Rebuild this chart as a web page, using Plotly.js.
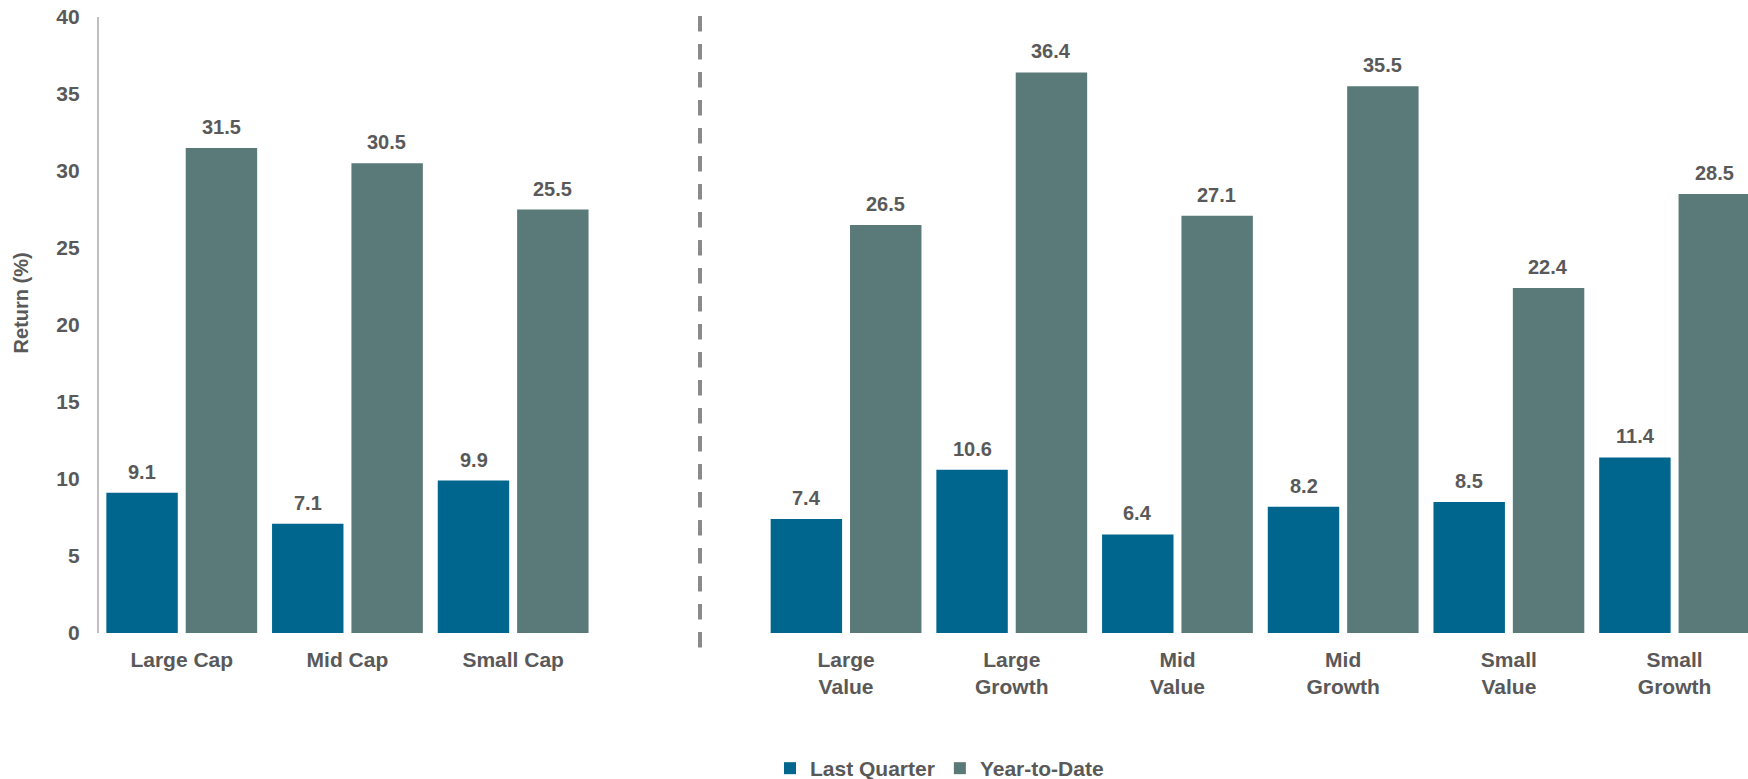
<!DOCTYPE html>
<html>
<head>
<meta charset="utf-8">
<script src="https://cdn.plot.ly/plotly-3.0.1.min.js"></script>
<style>
  html, body { margin: 0; padding: 0; background: #ffffff; }
  #chart { width: 1748px; height: 779px; }
</style>
</head>
<body>
<div id="chart"></div>
<script>
// ---- Data ----
var seriesNames = ['Last Quarter', 'Year-to-Date'];

var broadCategories = ['Large Cap', 'Mid Cap', 'Small Cap'];
var broadLastQuarter = [9.1, 7.1, 9.9];
var broadYTD = [31.5, 30.5, 27.5];
var broadLastQuarterLabels = ['9.1', '7.1', '9.9'];
var broadYTDLabels = ['31.5', '30.5', '25.5'];

var styleCategories = ['Large<br>Value', 'Large<br>Growth', 'Mid<br>Value', 'Mid<br>Growth', 'Small<br>Value', 'Small<br>Growth'];
var styleLastQuarter = [7.4, 10.6, 6.4, 8.2, 8.5, 11.4];
var styleYTD = [26.5, 36.4, 27.1, 35.5, 22.4, 28.5];
var styleLastQuarterLabels = ['7.4', '10.6', '6.4', '8.2', '8.5', '11.4'];
var styleYTDLabels = ['26.5', '36.4', '27.1', '35.5', '22.4', '28.5'];

var yTickValues = [0, 5, 10, 15, 20, 25, 30, 35, 40];

// ---- Style ----
var W = 1748, H = 779;
var colorLQ = '#00668E';
var colorYTD = '#5A7A79';
var textColor = '#595959';
var fontFamily = 'Liberation Sans, Arial, Helvetica, sans-serif';
var boldFont = function (size) { return { family: fontFamily, size: size, color: textColor, weight: 'bold' }; };

var traces = [
  { type: 'bar', name: seriesNames[0], x: broadCategories, y: broadLastQuarter, xaxis: 'x', yaxis: 'y',
    marker: { color: colorLQ }, legendgroup: 'lq', showlegend: true, hoverinfo: 'skip' },
  { type: 'bar', name: seriesNames[1], x: broadCategories, y: broadYTD, xaxis: 'x', yaxis: 'y',
    marker: { color: colorYTD }, legendgroup: 'ytd', showlegend: true, hoverinfo: 'skip' },
  { type: 'bar', name: seriesNames[0], x: styleCategories, y: styleLastQuarter, xaxis: 'x2', yaxis: 'y',
    marker: { color: colorLQ }, legendgroup: 'lq', showlegend: false, hoverinfo: 'skip' },
  { type: 'bar', name: seriesNames[1], x: styleCategories, y: styleYTD, xaxis: 'x2', yaxis: 'y',
    marker: { color: colorYTD }, legendgroup: 'ytd', showlegend: false, hoverinfo: 'skip' }
];

var slotShift = 39.5;
var annotations = [];
function addLabels(cats, vals, labels, xref, shift) {
  for (var i = 0; i < cats.length; i++) {
    annotations.push({
      x: cats[i], y: vals[i], xref: xref, yref: 'y', text: labels[i],
      showarrow: false, xshift: shift, yshift: 8, yanchor: 'bottom', xanchor: 'center',
      font: boldFont(20)
    });
  }
}
addLabels(broadCategories, broadLastQuarter, broadLastQuarterLabels, 'x', -slotShift);
addLabels(broadCategories, broadYTD, broadYTDLabels, 'x', slotShift);
addLabels(styleCategories, styleLastQuarter, styleLastQuarterLabels, 'x2', -slotShift);
addLabels(styleCategories, styleYTD, styleYTDLabels, 'x2', slotShift);

// y-axis title
annotations.push({
  text: 'Return (%)', xref: 'paper', yref: 'paper', x: 21 / W, y: 0.535,
  textangle: -90, showarrow: false, xanchor: 'center', yanchor: 'middle',
  font: boldFont(20)
});

var layout = {
  width: W, height: H,
  margin: { l: 0, r: 0, t: 17, b: 146, pad: 0, autoexpand: false },
  paper_bgcolor: '#ffffff', plot_bgcolor: '#ffffff',
  barmode: 'group', bargap: 0.042, bargroupgap: 0.1,
  showlegend: true,
  legend: {
    orientation: 'h', x: 770 / W, xanchor: 'left', y: -0.22, yanchor: 'middle',
    font: boldFont(21), traceorder: 'normal', bgcolor: 'rgba(0,0,0,0)'
  },
  xaxis: {
    type: 'category', domain: [98.9 / W, 596 / W], anchor: 'y',
    showgrid: false, zeroline: false, showline: false, ticks: '',
    tickfont: boldFont(21), ticklabelstandoff: 12, automargin: false, fixedrange: true
  },
  xaxis2: {
    type: 'category', domain: [763.2 / W, 1], anchor: 'y', range: [-0.5, 5.443],
    showgrid: false, zeroline: false, showline: false, ticks: '',
    tickfont: boldFont(21), ticklabelstandoff: 12, automargin: false, fixedrange: true
  },
  yaxis: {
    range: [0, 40], tickvals: yTickValues, ticktext: yTickValues.map(String),
    showgrid: false, zeroline: false, showline: true, linecolor: '#BFBFBF', linewidth: 2,
    ticks: '', tickfont: boldFont(21), ticklabelstandoff: 13, automargin: false, fixedrange: true
  },
  shapes: [{
    type: 'line', xref: 'paper', yref: 'paper',
    x0: 700 / W, x1: 700 / W, y0: -0.0236, y1: 1.003,
    line: { color: '#8A8A8A', width: 4, dash: '15.5px,12.5px' }
  }],
  annotations: annotations
};

Plotly.newPlot('chart', traces, layout, { displayModeBar: false, staticPlot: true });
</script>
</body>
</html>
